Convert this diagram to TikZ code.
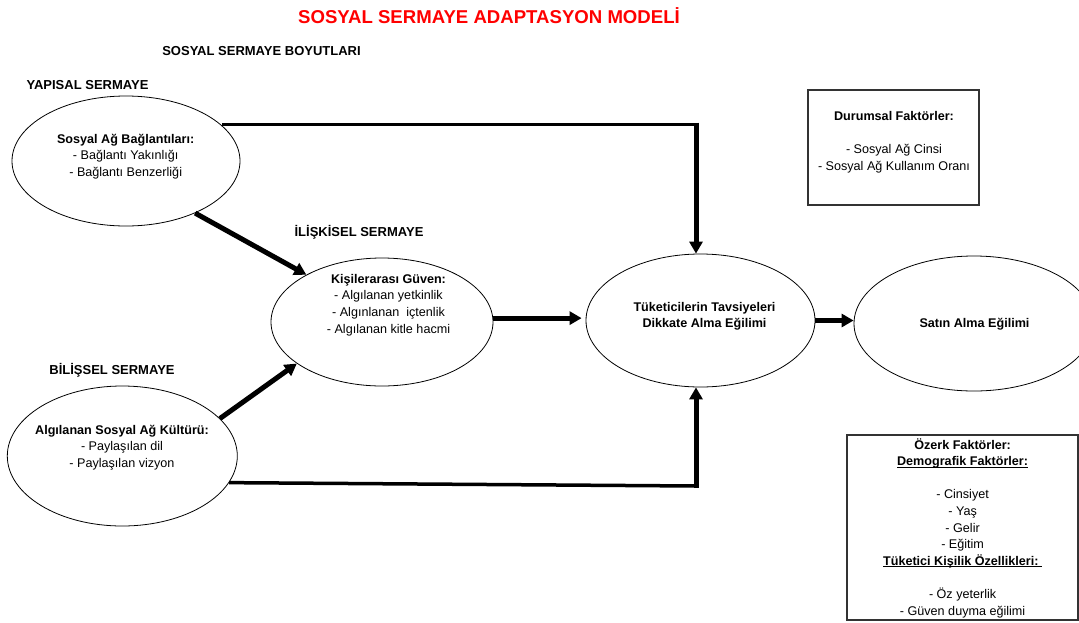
\documentclass[tikz,border=0pt]{standalone}
\usepackage{fontspec}
\setmainfont{Liberation Sans}
\usetikzlibrary{shapes.geometric,arrows.meta}
\newcommand\myul[1]{\setbox0\hbox{#1}\rlap{\rule[-2pt]{\wd0}{1pt}}\box0}
\begin{document}
\begin{tikzpicture}[x=1pt,y=-1pt,
  ell/.style={draw, ellipse, line width=0.8pt, inner sep=0pt},
  txt/.style={align=center, anchor=base, inner sep=0pt, font=\fontsize{12.6}{16.6}\selectfont},
  hd/.style={anchor=base, inner sep=0pt, font=\bfseries\fontsize{13}{16}\selectfont},
  arr/.style={line width=5pt, -{Triangle[length=12pt,width=13pt]}},
  ln/.style={line width=3pt},
  boxx/.style={draw=black!80, line width=1.2pt, inner sep=0pt}]
\useasboundingbox (0,0) rectangle (1079,622);

% ellipses
\node[ell, minimum width=228pt, minimum height=130pt] (e1) at (126,161) {};
\node[ell, minimum width=222pt, minimum height=128pt] (e2) at (382,322) {};
\node[ell, minimum width=229pt, minimum height=133pt] (e3) at (700.5,320.5) {};
\node[ell, minimum width=230pt, minimum height=140pt] (e4) at (122.3,456) {};
\node[ell, minimum width=240pt, minimum height=135pt] (e5) at (974,323.5) {};

% boxes
\node[boxx, minimum width=171pt, minimum height=115pt] (dur) at (893.5,147.5) {};
\node[boxx, minimum width=231pt, minimum height=185pt] (oz) at (962.5,527.5) {};

% headings
\node[hd, text=red, font=\bfseries\fontsize{18.6}{20}\selectfont] (title) at (489,23) {SOSYAL SERMAYE ADAPTASYON MODELİ};
\node[hd] (boy) at (261.5,55) {SOSYAL SERMAYE BOYUTLARI};
\node[hd] (yap) at (87.5,89.3) {YAPISAL SERMAYE};
\node[hd] (ilis) at (359,236) {İLİŞKİSEL SERMAYE};
\node[hd] (bil) at (112,374) {BİLİŞSEL SERMAYE};

% texts (anchor=base is the baseline of the last line)
\node[txt] (t1) at (125.7,176.5) {\textbf{Sosyal Ağ Bağlantıları:}\\- Bağlantı Yakınlığı\\- Bağlantı Benzerliği};
\node[txt] (t2) at (388.5,333) {\textbf{Kişilerarası Güven:}\\- Algılanan yetkinlik\\- Algınlanan\ \ içtenlik\\- Algılanan kitle hacmi};
\node[txt] (t3) at (704.5,327.7) {\textbf{Tüketicilerin Tavsiyeleri}\\\textbf{Dikkate Alma Eğilimi}};
\node[txt] (t4) at (122,467.5) {\textbf{Algılanan Sosyal Ağ Kültürü:}\\- Paylaşılan dil\\- Paylaşılan vizyon};
\node[txt] (t5) at (974.5,327.7) {\textbf{Satın Alma Eğilimi}};
\node[txt] (t6) at (894,170) {\textbf{Durumsal Faktörler:}\\[16.6pt]- Sosyal Ağ Cinsi\\- Sosyal Ağ Kullanım Oranı};
\node[txt] (t7) at (962.6,615) {\textbf{Özerk Faktörler:}\\\textbf{\myul{Demografik Faktörler:}}\\[16.6pt]- Cinsiyet\\- Yaş\\- Gelir\\- Eğitim\\\textbf{\myul{Tüketici Kişilik Özellikleri:\ }}\\[16.6pt]- Öz yeterlik\\- Güven duyma eğilimi};

% connectors
\coordinate (tc) at (696,124);
\coordinate (bc) at (696,486);
\draw[ln] (e1.20 |- tc) -- (tc);
\draw[arr, shorten <=-1.5pt] (tc) -- (tc |- e3.north);
\draw[arr] (e1.-37) -- (e2.148);
\draw[arr] (e4.21) -- (e2.206);
\draw[arr, shorten >=4pt] (e2.2) -- (e2.2 -| e3.west);
\draw[arr] (e3.east) -- (e3.east -| e5.west);
\draw[line width=3.5pt] (e4.-14) -- (bc);
\draw[arr, shorten <=-2pt] (bc) -- (bc |- e3.south);
\end{tikzpicture}
\end{document}
